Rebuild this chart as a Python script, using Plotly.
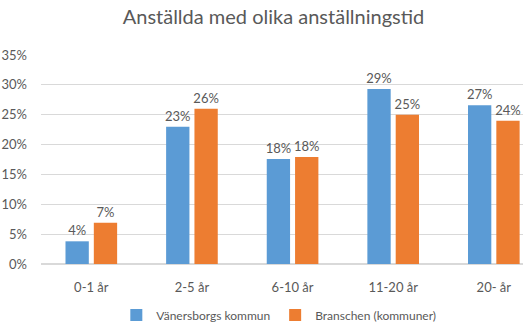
import plotly.graph_objects as go

categories = ["0-1 år", "2-5 år", "6-10 år", "11-20 år", "20- år"]
vanersborg = [0.038, 0.23, 0.176, 0.293, 0.266]
branschen = [0.069, 0.26, 0.179, 0.25, 0.24]
series_names = ["Vänersborgs kommun", "Branschen (kommuner)"]
title_text = "Anställda med olika anställningstid"

FONT = "Lato"
GRAY = "#595959"

fig = go.Figure()
for name, vals, col in [(series_names[0], vanersborg, "#5B9BD5"),
                        (series_names[1], branschen, "#ED7D31")]:
    fig.add_trace(go.Bar(
        x=categories, y=vals, name=name,
        marker=dict(color=col, line=dict(width=0)),
        texttemplate="%{y:.0%}", textposition="outside",
        textfont=dict(family=FONT, size=13, color=GRAY),
        cliponaxis=False,
    ))

fig.update_layout(
    width=531, height=323,
    margin=dict(l=41, r=8, t=55, b=59, autoexpand=False),
    paper_bgcolor="white", plot_bgcolor="white",
    barmode="group", bargap=0.437, bargroupgap=0.177,
    uniformtext=dict(mode=False),
    title=dict(text=title_text, x=273.5 / 531, xanchor="center",
               yref="container", y=1 - 17 / 323, yanchor="middle",
               font=dict(family=FONT, size=20, color=GRAY)),
    font=dict(family=FONT, size=13, color=GRAY),
    legend=dict(orientation="h", x=262 / 531, xanchor="center",
                yref="container", y=8 / 323, yanchor="middle",
                font=dict(family=FONT, size=12, color=GRAY), traceorder="normal",
                itemwidth=30),
    xaxis=dict(range=[-0.5, 4.29], showline=False, showgrid=False, ticks="",
               tickfont=dict(family=FONT, size=13, color=GRAY), ticklabelstandoff=14),
    yaxis=dict(range=[0, 0.35], dtick=0.05, tickformat=".0%", showgrid=True,
               gridcolor="#D9D9D9", gridwidth=1, zeroline=True, zerolinecolor="#D9D9D9",
               showline=False, ticks="", ticklabelstandoff=13,
               tickfont=dict(family=FONT, size=13, color=GRAY)),
    showlegend=True,
)
fig.update_traces(constraintext="none")

fig.write_html("out.html")
